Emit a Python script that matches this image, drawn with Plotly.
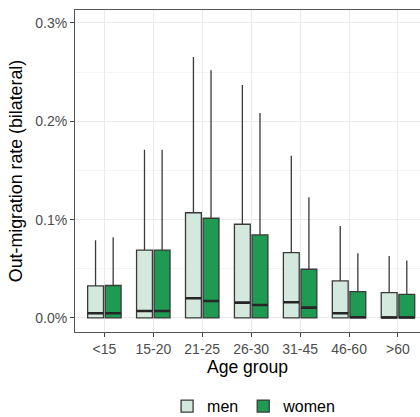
import plotly.graph_objects as go

age_groups = ["<15", "15-20", "21-25", "26-30", "31-45", "46-60", ">60"]

men_q1 = [0, 0, 0, 0, 0, 0, 0]
men_median = [0.000048, 0.000071, 0.000200, 0.000156, 0.000160, 0.000048, 0.000005]
men_q3 = [0.000326, 0.000690, 0.001070, 0.000953, 0.000664, 0.000376, 0.000257]
men_upper = [0.000790, 0.001710, 0.002655, 0.002370, 0.001650, 0.000936, 0.000630]

women_q1 = [0, 0, 0, 0, 0, 0, 0]
women_median = [0.000048, 0.000070, 0.000173, 0.000132, 0.000105, 0.000007, 0.000005]
women_q3 = [0.000330, 0.000690, 0.001014, 0.000844, 0.000495, 0.000268, 0.000240]
women_upper = [0.000820, 0.001710, 0.002520, 0.002085, 0.001228, 0.000658, 0.000583]

fig = go.Figure()
series = [
    ("men", men_q1, men_median, men_q3, men_upper, "#d4e9dd"),
    ("women", women_q1, women_median, women_q3, women_upper, "#1e9a52"),
]
for name, q1, med, q3, up, fill in series:
    fig.add_trace(go.Box(
        name=name, x=age_groups, q1=q1, median=med, q3=q3,
        lowerfence=q1, upperfence=up, offsetgroup=name,
        fillcolor=fill, line=dict(color="#3a3a3a", width=1.3),
        whiskerwidth=0, boxpoints=False, hoverinfo="skip",
    ))
# thicker median lines (ggplot style)
for name, q1, med, q3, up, fill in series:
    fig.add_trace(go.Box(
        name=name, x=age_groups, q1=med, median=med, q3=med,
        lowerfence=med, upperfence=med, offsetgroup=name,
        fillcolor="rgba(0,0,0,0)", line=dict(color="#262626", width=2.6),
        whiskerwidth=0, boxpoints=False, showlegend=False, hoverinfo="skip",
    ))

fig.update_layout(
    width=420, height=417,
    margin=dict(l=75, r=0, t=10, b=85),
    paper_bgcolor="white", plot_bgcolor="white",
    boxmode="group", boxgap=0.28, boxgroupgap=0.1,
    font=dict(family="Liberation Sans, Arial, sans-serif", color="#000000"),
    showlegend=True,
    legend=dict(orientation="h", x=0.605, xanchor="center", xref="container",
                y=0.026, yanchor="middle", yref="container",
                font=dict(size=16, color="#000000"), itemwidth=30),
    xaxis=dict(
        range=[-0.6, 6.45], showgrid=True, gridcolor="#ebebeb", gridwidth=1,
        showline=True, linecolor="#555555", linewidth=1, mirror=True,
        ticks="outside", ticklen=4, tickcolor="#444444",
        tickfont=dict(size=14, color="#4d4d4d"),
        title=dict(text="Age group", font=dict(size=17.6, color="#000000"), standoff=4),
        zeroline=False, automargin=False,
    ),
    yaxis=dict(
        range=[-0.000143, 0.003132], tickvals=[0, 0.001, 0.002, 0.003], tickformat=".1%",
        showgrid=True, gridcolor="#ebebeb", gridwidth=1,
        minor=dict(tickvals=[0.0005, 0.0015, 0.0025], showgrid=True, gridcolor="#f4f4f4", gridwidth=0.6),
        showline=True, linecolor="#555555", linewidth=1,
        ticks="outside", ticklen=4, tickcolor="#444444",
        tickfont=dict(size=14, color="#4d4d4d"),
        title=dict(text="Out-migration rate (bilateral)", font=dict(size=17.8, color="#000000"), standoff=8),
        zeroline=False, automargin=False,
    ),
)

fig.write_html("out.html")
